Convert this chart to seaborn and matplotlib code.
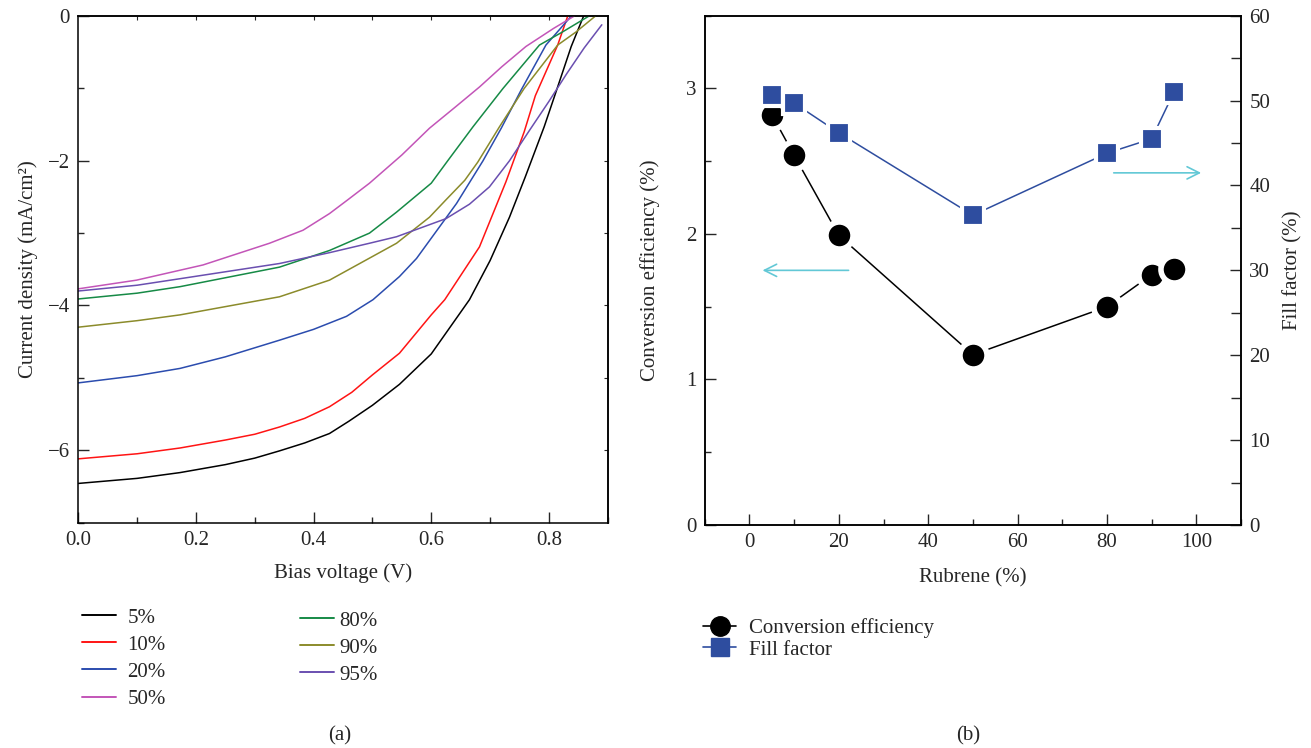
import numpy as np
import pandas as pd
import matplotlib
matplotlib.use("Agg")
import matplotlib.pyplot as plt
import seaborn as sns
from matplotlib.ticker import MultipleLocator
from matplotlib.lines import Line2D

# ---------------- data: panel (a) J-V curves ----------------
labels_a = ["5%", "10%", "20%", "50%", "80%", "90%", "95%"]

V_5 = [0.0, 0.1, 0.173, 0.25, 0.3, 0.342, 0.385, 0.427, 0.46, 0.5, 0.546, 0.6, 0.665, 0.7, 0.733, 0.76, 0.792, 0.812, 0.838, 0.859]
J_5 = [-6.46, -6.39, -6.31, -6.2, -6.11, -6.01, -5.9, -5.77, -5.6, -5.38, -5.09, -4.67, -3.92, -3.38, -2.78, -2.22, -1.53, -1.05, -0.42, 0.0]

V_10 = [0.0, 0.1, 0.173, 0.25, 0.3, 0.342, 0.385, 0.427, 0.465, 0.5, 0.546, 0.6, 0.623, 0.682, 0.727, 0.758, 0.777, 0.815, 0.832]
J_10 = [-6.12, -6.05, -5.97, -5.86, -5.78, -5.68, -5.56, -5.40, -5.2, -4.96, -4.66, -4.13, -3.92, -3.19, -2.29, -1.6, -1.1, -0.40, 0.0]

V_20 = [0.0, 0.1, 0.173, 0.25, 0.342, 0.4, 0.456, 0.501, 0.546, 0.575, 0.643, 0.688, 0.719, 0.753, 0.795, 0.838]
J_20 = [-5.07, -4.97, -4.87, -4.71, -4.48, -4.33, -4.15, -3.92, -3.60, -3.35, -2.59, -2.0, -1.55, -1.02, -0.40, 0.0]

V_50 = [0.0, 0.099, 0.212, 0.325, 0.382, 0.427, 0.458, 0.495, 0.55, 0.597, 0.642, 0.682, 0.72, 0.761, 0.808, 0.843]
J_50 = [-3.77, -3.65, -3.44, -3.14, -2.96, -2.73, -2.54, -2.31, -1.92, -1.55, -1.25, -0.98, -0.70, -0.42, -0.17, 0.0]

V_80 = [0.0, 0.1, 0.173, 0.342, 0.427, 0.495, 0.541, 0.6, 0.628, 0.671, 0.722, 0.784, 0.823, 0.868]
J_80 = [-3.91, -3.83, -3.74, -3.47, -3.24, -3.0, -2.71, -2.31, -2.0, -1.53, -1.0, -0.40, -0.22, 0.0]

V_90 = [0.0, 0.1, 0.173, 0.342, 0.427, 0.541, 0.597, 0.625, 0.657, 0.679, 0.716, 0.758, 0.815, 0.846, 0.879]
J_90 = [-4.30, -4.21, -4.13, -3.88, -3.65, -3.14, -2.78, -2.54, -2.27, -2.02, -1.53, -1.0, -0.40, -0.22, 0.0]

V_95 = [0.0, 0.1, 0.173, 0.342, 0.427, 0.495, 0.541, 0.625, 0.665, 0.699, 0.733, 0.767, 0.80, 0.83, 0.86, 0.890]
J_95 = [-3.80, -3.72, -3.63, -3.42, -3.27, -3.14, -3.05, -2.80, -2.60, -2.36, -2.0, -1.58, -1.18, -0.80, -0.44, -0.12]

colors_a = ["#000000", "#ff1414", "#2b4cae", "#c355b8", "#168a46", "#8b8b2b", "#6a4fb0"]

# ---------------- data: panel (b) ----------------
rubrene = [5, 10, 20, 50, 80, 90, 95]
efficiency = [2.82, 2.54, 1.99, 1.17, 1.50, 1.72, 1.76]
fill_factor = [50.7, 49.7, 46.2, 36.5, 43.8, 45.5, 51.0]

eff_color = "#000000"
ff_color = "#2e4d9f"
arrow_color = "#62c8d6"

# ---------------- style ----------------
sns.set_style("ticks")
plt.rcParams["font.family"] = ["Liberation Serif", "DejaVu Serif"]
plt.rcParams["font.size"] = 15
plt.rcParams["axes.linewidth"] = 1.1
plt.rcParams["axes.edgecolor"] = "black"

FS = 15
W, H = 1311, 748
fig = plt.figure(figsize=(W / 100, H / 100), dpi=100)


def fig_rect(x0, y0, x1, y1):
    return [x0 / W, 1 - y1 / H, (x1 - x0) / W, (y1 - y0) / H]


# ================= panel (a) =================
axL = fig.add_axes(fig_rect(78.3, 16.1, 607.7, 522.5))

curves = [(V_5, J_5), (V_10, J_10), (V_20, J_20), (V_50, J_50),
          (V_80, J_80), (V_90, J_90), (V_95, J_95)]
frames = []
for lab, (vv, jj) in zip(labels_a, curves):
    frames.append(pd.DataFrame({"V": vv, "J": jj, "label": lab}))
df_a = pd.concat(frames, ignore_index=True)

sns.lineplot(data=df_a, x="V", y="J", hue="label", hue_order=labels_a,
             palette=dict(zip(labels_a, colors_a)), estimator=None, sort=False,
             linewidth=1.1, legend=False, ax=axL)

axL.set_xlim(0, 0.9)
axL.set_ylim(-7, 0)
axL.xaxis.set_major_locator(MultipleLocator(0.2))
axL.xaxis.set_minor_locator(MultipleLocator(0.1))
axL.yaxis.set_major_locator(MultipleLocator(2))
axL.yaxis.set_minor_locator(MultipleLocator(1))
axL.tick_params(which="both", direction="in", top=False, right=False, labelsize=FS, pad=6)
axL.tick_params(which="major", length=8, width=1)
axL.tick_params(which="minor", length=4, width=1)
secx = axL.secondary_xaxis("top")
secx.set_xticks(np.arange(0.1, 0.9, 0.1))
secx.tick_params(direction="in", length=3, labeltop=False)
secy = axL.secondary_yaxis("right")
secy.set_yticks(np.arange(-6, 0, 1))
secy.tick_params(direction="in", length=3, labelright=False)

axL.set_xlabel("Bias voltage (V)", fontsize=FS)
axL.set_ylabel("Current density (mA/cm²)", fontsize=FS)
axL.xaxis.set_label_coords(0.5, -0.08)
axL.yaxis.set_label_coords(-0.076, 0.5)

h1 = [Line2D([], [], color=c, lw=1.4) for c in colors_a[:4]]
h2 = [Line2D([], [], color=c, lw=1.4) for c in colors_a[4:]]
fig.legend(h1, labels_a[:4], loc="upper left", bbox_to_anchor=(81.7 / W, 1 - 608 / H),
           frameon=False, fontsize=FS, handlelength=1.65, handletextpad=0.55,
           labelspacing=0.36, borderpad=0, borderaxespad=0)
fig.legend(h2, labels_a[4:], loc="upper left", bbox_to_anchor=(300 / W, 1 - 611 / H),
           frameon=False, fontsize=FS, handlelength=1.65, handletextpad=0.25,
           labelspacing=0.36, borderpad=0, borderaxespad=0)

# ================= panel (b) =================
axR = fig.add_axes(fig_rect(704.8, 15.7, 1241.0, 525.0))
axR2 = axR.twinx()

sns.lineplot(x=rubrene, y=efficiency, color=eff_color, marker="o", markersize=19.5,
             markeredgecolor="white", markeredgewidth=4, linewidth=1.1, ax=axR)
sns.lineplot(x=rubrene, y=fill_factor, color=ff_color, marker="s", markersize=16,
             markeredgecolor="white", markeredgewidth=3, linewidth=1.1, ax=axR2)

axR.set_xlim(-10, 110)
axR.set_ylim(0, 3.5)
axR2.set_ylim(0, 60)
axR.xaxis.set_major_locator(MultipleLocator(20))
axR.xaxis.set_minor_locator(MultipleLocator(10))
axR.yaxis.set_major_locator(MultipleLocator(1))
axR.yaxis.set_minor_locator(MultipleLocator(0.5))
axR2.yaxis.set_major_locator(MultipleLocator(10))
axR2.yaxis.set_minor_locator(MultipleLocator(5))
for a in (axR, axR2):
    a.tick_params(which="both", direction="in", labelsize=FS, pad=6)
    a.tick_params(which="major", length=8, width=1)
    a.tick_params(which="minor", length=4, width=1)
axR2.tick_params(which="minor", length=7)
axR.tick_params(top=False, right=False)

axR.set_xlabel("Rubrene (%)", fontsize=FS)
axR.set_ylabel("Conversion efficiency (%)", fontsize=FS)
axR2.set_ylabel("Fill factor (%)", fontsize=FS, rotation=90)
axR.xaxis.set_label_coords(0.5, -0.084)
axR.yaxis.set_label_coords(-0.084, 0.5)
axR2.yaxis.set_label_coords(1.079, 0.5)

# direction arrows
axR.annotate("", xy=(2.3, 1.75), xytext=(22.8, 1.75),
             arrowprops=dict(arrowstyle="->", color=arrow_color, lw=1.2, mutation_scale=22))
axR.annotate("", xy=(101.7, 2.42), xytext=(80.9, 2.42),
             arrowprops=dict(arrowstyle="->", color=arrow_color, lw=1.2, mutation_scale=22))

hb = [Line2D([], [], color=eff_color, marker="o", markersize=14, lw=1.2),
      Line2D([], [], color=ff_color, marker="s", markersize=13, lw=1.2)]
fig.legend(hb, ["Conversion efficiency", "Fill factor"], loc="upper left",
           bbox_to_anchor=(703 / W, 1 - 618 / H), frameon=False, fontsize=FS,
           handlelength=1.6, handletextpad=0.6, labelspacing=0.1,
           borderpad=0, borderaxespad=0)

fig.text(340 / W, 1 - 736 / H, "(a)", ha="center", va="center", fontsize=FS)
fig.text(968 / W, 1 - 736 / H, "(b)", ha="center", va="center", fontsize=FS)

fig.savefig("out.png", dpi=100)
